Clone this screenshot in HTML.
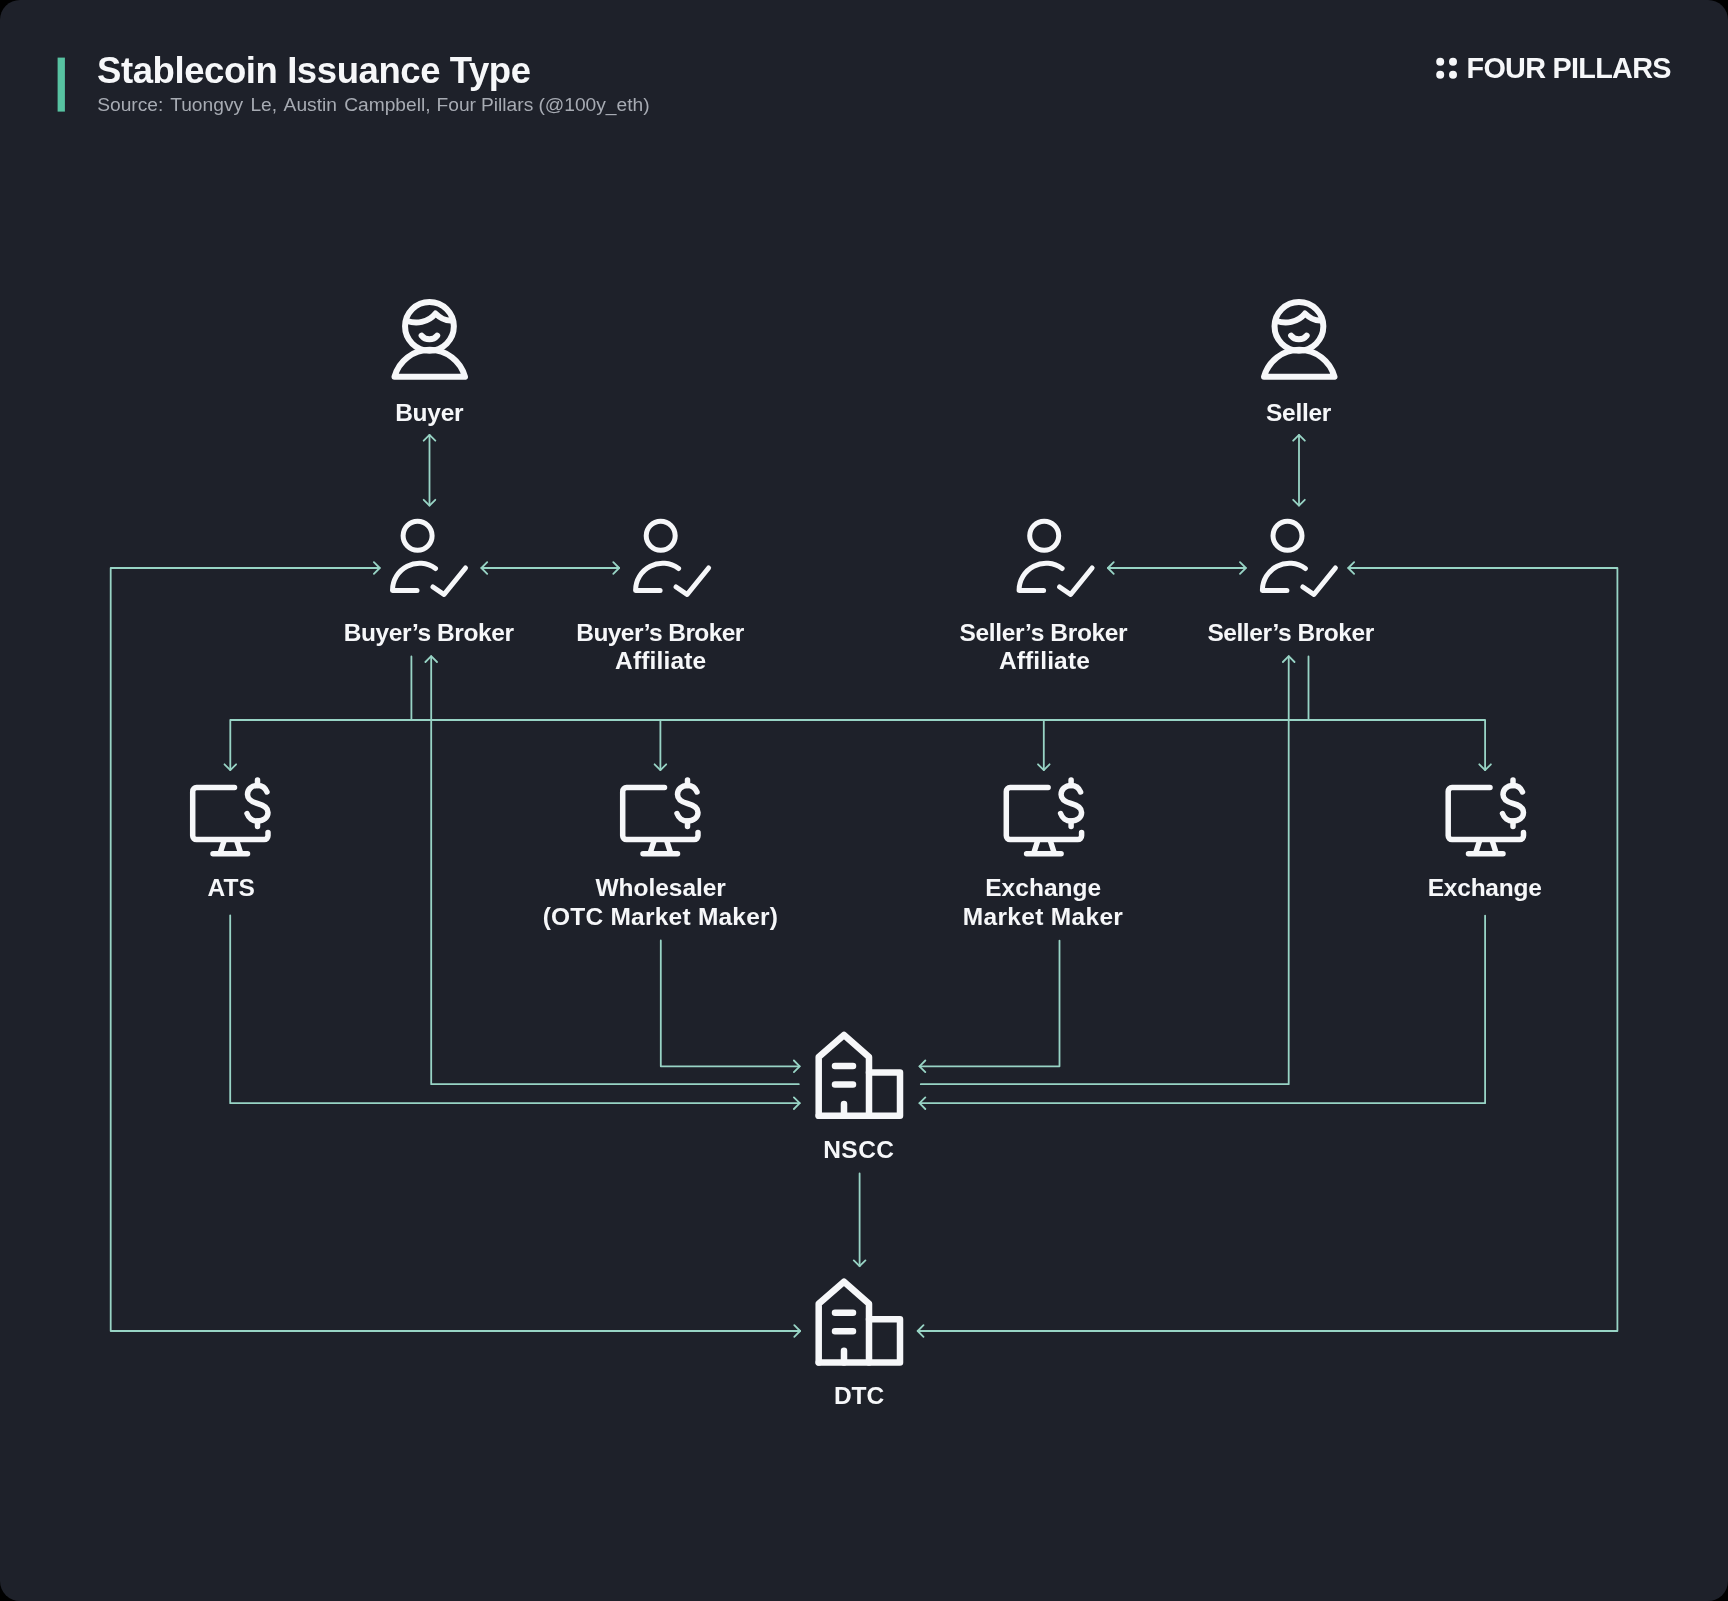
<!DOCTYPE html>
<html><head><meta charset="utf-8"><style>
html,body{margin:0;padding:0;background:#000;width:1728px;height:1601px;overflow:hidden}
.card{position:absolute;left:0;top:0;width:1728px;height:1601px;background:#1e212a;border-radius:20px;overflow:hidden}
svg{position:absolute;left:0;top:0;will-change:transform}
</style></head><body><div class="card">
<svg width="1728" height="1601" viewBox="0 0 1728 1601">
<g fill="none" stroke="#98d4c5" stroke-width="1.8" stroke-linecap="round" stroke-linejoin="round">
<path d="M429.5 434.9V505.6M1299 434.9V505.6M481.4 568H619.1M1107.9 568H1245.8M800.1 1331H110.7V568H379.7M917.7 1331H1617.4V568H1348.3M230.3 770.1V720H1485.1V770.1M660.4 720V770.1M1043.8 720V770.1M411.4 656.5V720M1308.5 656.5V720M431.2 656.2V1084.2H798.8M1288.7 656.2V1084.2H920.8M230.2 915.3V1103.2H799.7M660.8 940.4V1066.3H799.7M1059.5 940.6V1066.3H919.5M1485.1 915.6V1103.2H919.5M859.6 1173.4V1266.2"/>
<path d="M423.7 440.7L429.5 434.9L435.3 440.7M423.7 499.8L429.5 505.6L435.3 499.8M1293.2 440.7L1299 434.9L1304.8 440.7M1293.2 499.8L1299 505.6L1304.8 499.8M487.2 562.2L481.4 568L487.2 573.8M613.3 562.2L619.1 568L613.3 573.8M1113.7 562.2L1107.9 568L1113.7 573.8M1240 562.2L1245.8 568L1240 573.8M794.3 1325.2L800.1 1331L794.3 1336.8M373.9 562.2L379.7 568L373.9 573.8M923.5 1325.2L917.7 1331L923.5 1336.8M1354.1 562.2L1348.3 568L1354.1 573.8M224.5 764.3L230.3 770.1L236.1 764.3M1479.3 764.3L1485.1 770.1L1490.9 764.3M654.6 764.3L660.4 770.1L666.2 764.3M1038 764.3L1043.8 770.1L1049.6 764.3M425.4 662L431.2 656.2L437 662M1282.9 662L1288.7 656.2L1294.5 662M793.9 1097.4L799.7 1103.2L793.9 1109M793.9 1060.5L799.7 1066.3L793.9 1072.1M925.3 1060.5L919.5 1066.3L925.3 1072.1M925.3 1097.4L919.5 1103.2L925.3 1109M853.8 1260.4L859.6 1266.2L865.4 1260.4"/>
</g>
<g fill="none" stroke="#f6f7f9" stroke-width="6" stroke-linecap="round" stroke-linejoin="round">
<g transform="translate(0.0 0)">
<circle cx="429.45" cy="326.3" r="24.4" />
<path d="M407 321C416 324 428 323 435.5 313.5C440 318 446 321 452 320.5" />
<path d="M421.6 335.6A10 10 0 0 0 437.2 335.6" />
<path d="M394.5 376.8A36.5 36.5 0 0 1 465 376.8Z" />
</g>
<g transform="translate(869.5 0)">
<circle cx="429.45" cy="326.3" r="24.4" />
<path d="M407 321C416 324 428 323 435.5 313.5C440 318 446 321 452 320.5" />
<path d="M421.6 335.6A10 10 0 0 0 437.2 335.6" />
<path d="M394.5 376.8A36.5 36.5 0 0 1 465 376.8Z" />
</g>
</g>
<g fill="none" stroke="#f6f7f9" stroke-width="5" stroke-linecap="round" stroke-linejoin="round">
<g transform="translate(0.0 0)">
<circle cx="417.6" cy="535.8" r="14.5" />
<path d="M435.5 568.5A27 27 0 0 0 392.5 590.5H417" />
<path d="M433 587L444 594.5L465.5 568" />
</g>
<g transform="translate(243.1 0)">
<circle cx="417.6" cy="535.8" r="14.5" />
<path d="M435.5 568.5A27 27 0 0 0 392.5 590.5H417" />
<path d="M433 587L444 594.5L465.5 568" />
</g>
<g transform="translate(626.6 0)">
<circle cx="417.6" cy="535.8" r="14.5" />
<path d="M435.5 568.5A27 27 0 0 0 392.5 590.5H417" />
<path d="M433 587L444 594.5L465.5 568" />
</g>
<g transform="translate(869.9 0)">
<circle cx="417.6" cy="535.8" r="14.5" />
<path d="M435.5 568.5A27 27 0 0 0 392.5 590.5H417" />
<path d="M433 587L444 594.5L465.5 568" />
</g>
</g>
<g fill="none" stroke="#f6f7f9" stroke-width="5.5" stroke-linecap="round" stroke-linejoin="round">
<g transform="translate(0.0 0)">
<path d="M234.5 787.6H196.5A3.8 3.8 0 0 0 192.7 791.4V835.8A3.8 3.8 0 0 0 196.5 839.6H264.2A3.8 3.8 0 0 0 268 835.8V832.5" />
<path d="M224 841L220.5 852M236.8 841L240.3 852M213 853.7H247.5" />
<path d="M257.5 780V785.5M257.5 821V826.5" />
<path d="M267 792C265.5 788 262 785.5 257.5 785.5C251.5 785.5 247.5 789.5 247.5 794.5C247.5 800 252 802 257.5 803.5C263.5 805 268 807.5 268 812.5C268 817.5 263.5 821 257.5 821C252.5 821 248.5 818 247 813.5" />
</g>
<g transform="translate(430.0 0)">
<path d="M234.5 787.6H196.5A3.8 3.8 0 0 0 192.7 791.4V835.8A3.8 3.8 0 0 0 196.5 839.6H264.2A3.8 3.8 0 0 0 268 835.8V832.5" />
<path d="M224 841L220.5 852M236.8 841L240.3 852M213 853.7H247.5" />
<path d="M257.5 780V785.5M257.5 821V826.5" />
<path d="M267 792C265.5 788 262 785.5 257.5 785.5C251.5 785.5 247.5 789.5 247.5 794.5C247.5 800 252 802 257.5 803.5C263.5 805 268 807.5 268 812.5C268 817.5 263.5 821 257.5 821C252.5 821 248.5 818 247 813.5" />
</g>
<g transform="translate(813.6 0)">
<path d="M234.5 787.6H196.5A3.8 3.8 0 0 0 192.7 791.4V835.8A3.8 3.8 0 0 0 196.5 839.6H264.2A3.8 3.8 0 0 0 268 835.8V832.5" />
<path d="M224 841L220.5 852M236.8 841L240.3 852M213 853.7H247.5" />
<path d="M257.5 780V785.5M257.5 821V826.5" />
<path d="M267 792C265.5 788 262 785.5 257.5 785.5C251.5 785.5 247.5 789.5 247.5 794.5C247.5 800 252 802 257.5 803.5C263.5 805 268 807.5 268 812.5C268 817.5 263.5 821 257.5 821C252.5 821 248.5 818 247 813.5" />
</g>
<g transform="translate(1255.5 0)">
<path d="M234.5 787.6H196.5A3.8 3.8 0 0 0 192.7 791.4V835.8A3.8 3.8 0 0 0 196.5 839.6H264.2A3.8 3.8 0 0 0 268 835.8V832.5" />
<path d="M224 841L220.5 852M236.8 841L240.3 852M213 853.7H247.5" />
<path d="M257.5 780V785.5M257.5 821V826.5" />
<path d="M267 792C265.5 788 262 785.5 257.5 785.5C251.5 785.5 247.5 789.5 247.5 794.5C247.5 800 252 802 257.5 803.5C263.5 805 268 807.5 268 812.5C268 817.5 263.5 821 257.5 821C252.5 821 248.5 818 247 813.5" />
</g>
</g>
<g fill="none" stroke="#f6f7f9" stroke-width="6.5" stroke-linecap="round" stroke-linejoin="round">
<g transform="translate(0 0)">
<path d="M818.7 1115.8V1057L844 1035L869 1057V1115.8" />
<path d="M818.7 1115.8H900V1072.5H869" />
<path d="M835 1066H853M835 1084.5H853M844 1115.8V1104" />
</g>
<g transform="translate(0 246.7)">
<path d="M818.7 1115.8V1057L844 1035L869 1057V1115.8" />
<path d="M818.7 1115.8H900V1072.5H869" />
<path d="M835 1066H853M835 1084.5H853M844 1115.8V1104" />
</g>
</g>
<g fill="#f6f7f9" font-family="Liberation Sans, sans-serif" font-weight="bold" font-size="24.5" text-anchor="middle">
<text id="Buyer" x="429.40" y="420.7" textLength="68.45" lengthAdjust="spacing">Buyer</text>
<text id="Seller" x="1298.65" y="420.7" textLength="65.25" lengthAdjust="spacing">Seller</text>
<text id="BB" x="428.85" y="640.5" textLength="170.37" lengthAdjust="spacing">Buyer’s Broker</text>
<text id="BBA1" x="660.35" y="640.5" textLength="167.97" lengthAdjust="spacing">Buyer’s Broker</text>
<text id="BBA2" x="660.60" y="669" textLength="91.04" lengthAdjust="spacing">Affiliate</text>
<text id="SBA1" x="1043.60" y="640.5" textLength="167.97" lengthAdjust="spacing">Seller’s Broker</text>
<text id="SBA2" x="1044.35" y="669" textLength="90.94" lengthAdjust="spacing">Affiliate</text>
<text id="SB" x="1290.85" y="640.5" textLength="166.87" lengthAdjust="spacing">Seller’s Broker</text>
<text id="ATS" x="231.20" y="896" textLength="47.19" lengthAdjust="spacing">ATS</text>
<text id="Whole1" x="660.70" y="896" textLength="130.32" lengthAdjust="spacing">Wholesaler</text>
<text id="Whole2" x="660.35" y="925" textLength="235.35" lengthAdjust="spacing">(OTC Market Maker)</text>
<text id="Exch1" x="1043.20" y="896" textLength="115.95" lengthAdjust="spacing">Exchange</text>
<text id="Exch2" x="1042.85" y="925" textLength="160.11" lengthAdjust="spacing">Market Maker</text>
<text id="Exch" x="1484.80" y="896" textLength="114.15" lengthAdjust="spacing">Exchange</text>
<text id="NSCC" x="858.60" y="1158.4" textLength="70.82" lengthAdjust="spacing">NSCC</text>
<text id="DTC" x="859.10" y="1404" textLength="50.16" lengthAdjust="spacing">DTC</text>
</g>
<rect x="57.6" y="57.6" width="7.3" height="54" fill="#57c2a1"/>
<text x="97" y="82.7" fill="#f6f7f9" font-family="Liberation Sans, sans-serif" font-weight="bold" font-size="36.5" textLength="434" lengthAdjust="spacing">Stablecoin Issuance Type</text>
<text y="111" fill="#a7abb3" font-family="Liberation Sans, sans-serif" font-size="19.2"><tspan x="97.2">Source:</tspan><tspan x="170.2">Tuongvy</tspan><tspan x="250.4">Le,</tspan><tspan x="283.6">Austin</tspan><tspan x="344.2">Campbell,</tspan><tspan x="436.5">Four</tspan><tspan x="481.0">Pillars</tspan><tspan x="538.4">(@100y_eth)</tspan></text>
<g fill="#f6f7f9"><circle cx="1440.2" cy="61.7" r="4"/><circle cx="1453" cy="61.7" r="4"/><circle cx="1440.2" cy="74.8" r="4"/><circle cx="1453" cy="74.8" r="4"/></g>
<text x="1466.5" y="78" fill="#f6f7f9" font-family="Liberation Sans, sans-serif" font-weight="bold" font-size="28.8" textLength="205" lengthAdjust="spacing">FOUR PILLARS</text>
</svg></div></body></html>
